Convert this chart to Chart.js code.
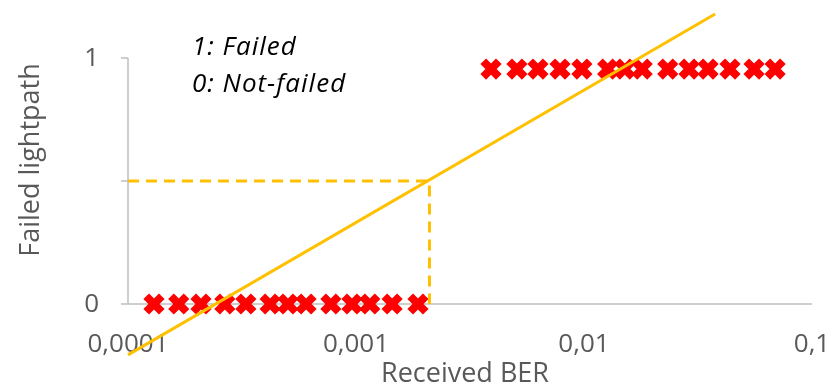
<!DOCTYPE html>
<html>
<head>
<meta charset="utf-8">
<script src="https://cdn.jsdelivr.net/npm/chart.js@4/dist/chart.umd.min.js"></script>
<style>
  html, body { margin: 0; padding: 0; background: #ffffff; }
  #wrap { width: 832px; height: 389px; }
</style>
</head>
<body>
<div id="wrap"><canvas id="c" width="832" height="389"></canvas></div>
<script>
// Lightpaths that did not fail (plotted at level 0)
const notFailedBER = [0.000130, 0.000167, 0.000209, 0.000266, 0.000329, 0.000420, 0.000503,
                      0.000604, 0.000776, 0.000960, 0.00115, 0.00144, 0.00187];
const notFailedLevel = [0, 0, 0, 0, 0, 0, 0, 0, 0, 0, 0, 0, 0];

// Lightpaths that failed (plotted just under level 1)
const failedBER = [0.00391, 0.00508, 0.00628, 0.00785, 0.00979, 0.0127, 0.0151,
                   0.0180, 0.0233, 0.0289, 0.0350, 0.0437, 0.0557, 0.0689];
const failedLevel = [0.955, 0.955, 0.955, 0.955, 0.955, 0.955, 0.955,
                     0.955, 0.955, 0.955, 0.955, 0.955, 0.955, 0.955];

// Linear fit over log(BER)
const trendBER = [0.0001, 0.0376];
const trendFit = [-0.207, 1.179];

// Decision threshold where the fit crosses 0.5
const thresholdBER = 0.0021;
const thresholdLevel = 0.5;

// Axis ticks
const xTickValues = [0.0001, 0.001, 0.01, 0.1];
const xTickLabels = ['0,0001', '0,001', '0,01', '0,1'];
const yTickValues = [0, 0.5, 1];
const yTickLabels = ['0', '', '1'];

const xTitle = 'Received BER';
const yTitle = 'Failed lightpath';
const noteLines = ['1: Failed', '0: Not-failed'];

const GRAY_TEXT = '#595959';
const AXIS_GRAY = '#bfbfbf';
const GOLD = '#ffc000';
const FONT = '"Open Sans", "Noto Sans", sans-serif';

const xy = (xs, ys) => xs.map((v, i) => ({ x: v, y: ys[i] }));

// Axes, tick labels, titles and the legend note, drawn from the chart's own scales
const handAxes = {
  id: 'handAxes',
  beforeDatasetsDraw(chart) {
    const { ctx, scales: { x, y } } = chart;
    const left = x.getPixelForValue(xTickValues[0]);
    const right = x.getPixelForValue(xTickValues[xTickValues.length - 1]);
    const yBottom = y.getPixelForValue(yTickValues[0]);
    const yTop = y.getPixelForValue(yTickValues[yTickValues.length - 1]);

    ctx.save();
    ctx.strokeStyle = AXIS_GRAY;
    ctx.lineWidth = 1.5;
    ctx.beginPath();
    ctx.moveTo(left, yTop);
    ctx.lineTo(left, yBottom);
    yTickValues.forEach(v => {
      const p = y.getPixelForValue(v);
      ctx.moveTo(left - 7, p);
      ctx.lineTo(left, p);
    });
    ctx.moveTo(left, yBottom);
    ctx.lineTo(right, yBottom);
    ctx.stroke();

    ctx.fillStyle = GRAY_TEXT;
    ctx.font = '26px ' + FONT;
    ctx.textAlign = 'right';
    ctx.textBaseline = 'middle';
    yTickValues.forEach((v, i) => {
      ctx.fillText(yTickLabels[i], left - 29, y.getPixelForValue(v) + 1);
    });

    ctx.textAlign = 'center';
    xTickValues.forEach((v, i) => {
      ctx.fillText(xTickLabels[i], x.getPixelForValue(v), yBottom + 41);
    });

    ctx.font = '27px ' + FONT;
    ctx.fillText(xTitle, 465, 374);

    ctx.save();
    ctx.translate(31, 160);
    ctx.rotate(-Math.PI / 2);
    ctx.fillText(yTitle, 0, 0);
    ctx.restore();

    ctx.fillStyle = '#000000';
    ctx.font = 'italic 26px ' + FONT;
    ctx.letterSpacing = '1px';
    ctx.textAlign = 'left';
    ctx.textBaseline = 'alphabetic';
    ctx.fillText(noteLines[0], 192, 55);
    ctx.fillText(noteLines[1], 192, 92);
    ctx.restore();
  }
};

new Chart(document.getElementById('c'), {
  type: 'scatter',
  data: {
    datasets: [
      {
        label: 'Fit',
        type: 'line',
        data: xy(trendBER, trendFit),
        borderColor: GOLD,
        borderWidth: 3,
        pointRadius: 0,
        fill: false,
        order: 0,
        clip: false
      },
      {
        label: 'Threshold',
        type: 'line',
        data: [
          { x: xTickValues[0], y: thresholdLevel },
          { x: thresholdBER, y: thresholdLevel },
          { x: thresholdBER, y: 0 }
        ],
        borderColor: GOLD,
        borderWidth: 3,
        borderDash: [11, 7],
        pointRadius: 0,
        fill: false,
        order: 1,
        clip: false
      },
      {
        label: 'Not failed',
        data: xy(notFailedBER, notFailedLevel),
        pointStyle: 'crossRot',
        pointRadius: 11,
        pointBorderWidth: 8,
        borderColor: '#ff0000',
        backgroundColor: '#ff0000',
        order: 2,
        clip: false
      },
      {
        label: 'Failed',
        data: xy(failedBER, failedLevel),
        pointStyle: 'crossRot',
        pointRadius: 11,
        pointBorderWidth: 8,
        borderColor: '#ff0000',
        backgroundColor: '#ff0000',
        order: 2,
        clip: false
      }
    ]
  },
  options: {
    responsive: false,
    animation: false,
    events: [],
    layout: { autoPadding: false, padding: { left: 128, right: 20, top: 8.8, bottom: 33.34 } },
    plugins: { legend: { display: false }, tooltip: { enabled: false } },
    scales: {
      x: { type: 'logarithmic', min: 0.0001, max: 0.1, display: false },
      y: { type: 'linear', min: -0.21, max: 1.2, display: false }
    }
  },
  plugins: [handAxes]
});
</script>
</body>
</html>
